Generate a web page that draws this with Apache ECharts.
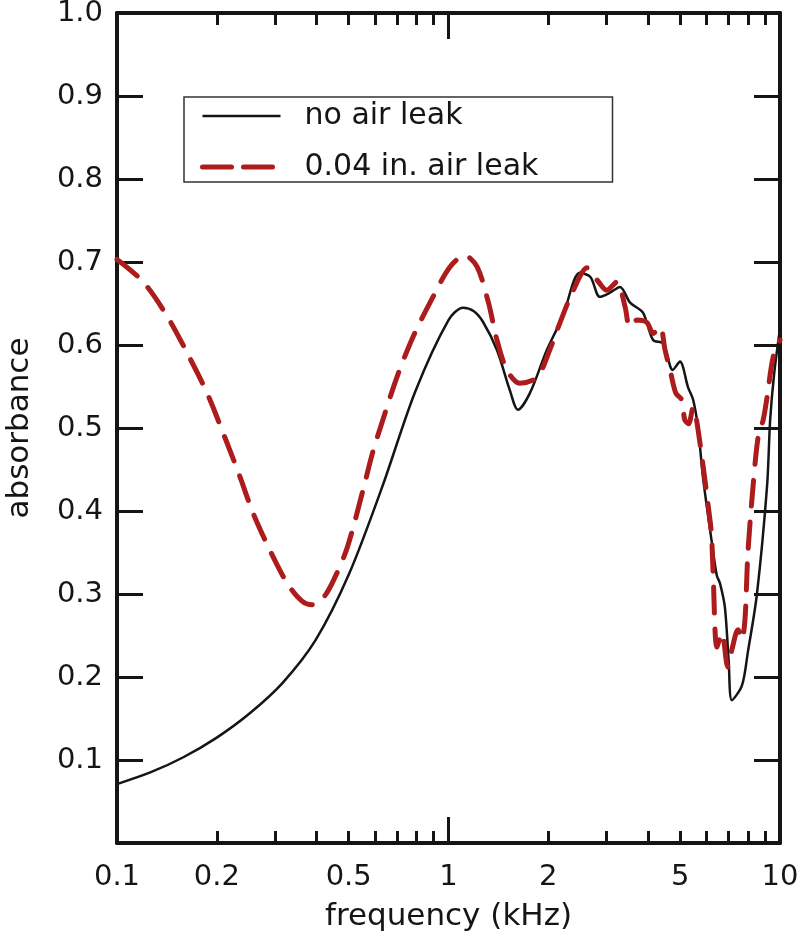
<!DOCTYPE html>
<html>
<head>
<meta charset="utf-8">
<script src="https://cdn.jsdelivr.net/npm/echarts@6/dist/echarts.min.js"></script>
<style>
  html, body { margin: 0; padding: 0; background: #fff; }
  #chart { width: 800px; height: 938px; }
</style>
</head>
<body>
<div id="chart"></div>
<script>
// frequency in kHz, absorbance
var noLeakFreq = [0.100, 0.126, 0.158, 0.200, 0.251, 0.316, 0.398, 0.501, 0.631, 0.794, 1.00, 1.106, 1.19, 1.27, 1.40, 1.53, 1.62, 1.76, 1.98, 2.21, 2.49, 2.68, 2.86, 3.07, 3.29, 3.53, 3.86, 4.14, 4.44, 4.75, 4.99, 5.28, 5.47, 5.66, 5.86, 6.29, 6.45, 6.59, 6.82, 7.00, 7.16, 7.68, 8.00, 8.52, 9.14, 9.34, 9.60, 10.0];
var noLeakAbs  = [0.071, 0.085, 0.103, 0.127, 0.156, 0.193, 0.245, 0.324, 0.429, 0.544, 0.630, 0.645, 0.641, 0.628, 0.594, 0.546, 0.522, 0.542, 0.594, 0.634, 0.687, 0.682, 0.658, 0.663, 0.670, 0.651, 0.639, 0.606, 0.602, 0.570, 0.580, 0.549, 0.534, 0.500, 0.440, 0.350, 0.322, 0.313, 0.284, 0.220, 0.172, 0.190, 0.230, 0.300, 0.430, 0.510, 0.565, 0.620];

var leakFreq = [0.100, 0.120, 0.142, 0.163, 0.187, 0.209, 0.235, 0.257, 0.289, 0.326, 0.360, 0.388, 0.418, 0.448, 0.494, 0.552, 0.590, 0.634, 0.700, 0.782, 0.898, 1.01, 1.12, 1.22, 1.32, 1.40, 1.50, 1.64, 1.85, 2.02, 2.17, 2.38, 2.62, 2.81, 3.00, 3.22, 3.41, 3.52, 3.70, 3.97, 4.14, 4.35, 4.50, 4.66, 4.85, 5.05, 5.16, 5.30, 5.47, 5.66, 6.15, 6.22, 6.29, 6.45, 6.68, 6.96, 7.16, 7.47, 7.67, 7.84, 8.00, 8.29, 8.59, 8.90, 9.14, 9.54, 10.0];
var leakAbs  = [0.703, 0.676, 0.634, 0.590, 0.542, 0.494, 0.441, 0.398, 0.353, 0.313, 0.292, 0.287, 0.295, 0.315, 0.355, 0.425, 0.470, 0.510, 0.562, 0.610, 0.658, 0.694, 0.708, 0.694, 0.651, 0.606, 0.570, 0.554, 0.561, 0.594, 0.627, 0.666, 0.693, 0.678, 0.666, 0.676, 0.646, 0.622, 0.630, 0.627, 0.614, 0.622, 0.594, 0.570, 0.542, 0.534, 0.510, 0.505, 0.525, 0.498, 0.389, 0.369, 0.320, 0.236, 0.253, 0.212, 0.233, 0.257, 0.245, 0.269, 0.349, 0.429, 0.489, 0.510, 0.537, 0.586, 0.606];

var seriesNames = ['no air leak', '0.04 in. air leak'];

// axis ticks and labels
var xLabelValues = [0.1, 0.2, 0.5, 1, 2, 5, 10];
var xMinorTicks = [0.2, 0.3, 0.4, 0.5, 0.6, 0.7, 0.8, 0.9, 2, 3, 4, 5, 6, 7, 8, 9];
var xMajorTicks = [1];

var ink = '#151515';
var red = '#ad1c1c';
var font = 'DejaVu Sans';

function pairs(xs, ys) {
  return xs.map(function (x, i) { return [x, ys[i]]; });
}

function xAxisBase(pos) {
  return {
    type: 'log', logBase: 10, min: 0.1, max: 10, position: pos,
    axisLine: { show: true, lineStyle: { color: ink, width: 4 } },
    splitLine: { show: false },
    axisLabel: { show: false },
    axisTick: { show: false }
  };
}

var xBottom = xAxisBase('bottom');
xBottom.axisTick = { show: true, inside: true, length: 12, customValues: xMinorTicks, lineStyle: { color: ink, width: 3 } };
xBottom.axisLabel = {
  show: true, customValues: xLabelValues, margin: 20,
  fontFamily: font, fontSize: 29, color: ink,
  formatter: function (v) { return String(+(+v).toPrecision(3)); }
};
xBottom.name = 'frequency (kHz)';
xBottom.nameLocation = 'middle';
xBottom.nameGap = 58;
xBottom.nameTextStyle = { fontFamily: font, fontSize: 31, color: ink };

var xBottomMajor = xAxisBase('bottom');
xBottomMajor.axisLine = { show: false };
xBottomMajor.axisTick = { show: true, inside: true, length: 26, customValues: xMajorTicks, lineStyle: { color: ink, width: 3 } };

var xTop = xAxisBase('top');
xTop.axisTick = { show: true, inside: true, length: 12, customValues: xMinorTicks, lineStyle: { color: ink, width: 3 } };

var xTopMajor = xAxisBase('top');
xTopMajor.axisLine = { show: false };
xTopMajor.axisTick = { show: true, inside: true, length: 26, customValues: xMajorTicks, lineStyle: { color: ink, width: 3 } };

var chart = echarts.init(document.getElementById('chart'), null, { renderer: 'canvas' });

chart.setOption({
  animation: false,
  backgroundColor: '#fff',
  grid: { left: 117, right: 20, top: 13, bottom: 95, containLabel: false, outerBoundsMode: 'none' },
  legend: {
    left: 184, top: 97,
    orient: 'vertical',
    padding: [4, 12, 0, 16],
    itemWidth: 78, itemHeight: 14, itemGap: 21,
    borderColor: '#333', borderWidth: 1.5,
    textStyle: { fontFamily: font, fontSize: 30, color: ink, lineHeight: 30, width: 296, padding: [0, 0, 0, 19] },
    data: [
      {
        name: seriesNames[0],
        itemStyle: { color: 'rgba(0,0,0,0)', borderWidth: 0, opacity: 0 },
        lineStyle: { color: ink, width: 2.5, type: 'solid' }
      },
      {
        name: seriesNames[1],
        itemStyle: { color: 'rgba(0,0,0,0)', borderWidth: 0, opacity: 0 },
        lineStyle: { color: red, width: 5, type: [29, 12], cap: 'round' }
      }
    ]
  },
  xAxis: [xBottom, xBottomMajor, xTop, xTopMajor],
  yAxis: [
    {
      type: 'value', min: 0, max: 1, interval: 0.1, position: 'left',
      axisLine: { show: true, lineStyle: { color: ink, width: 4 } },
      axisTick: { show: true, inside: true, length: 26, lineStyle: { color: ink, width: 3 } },
      splitLine: { show: false },
      axisLabel: {
        margin: 14, fontFamily: font, fontSize: 29, color: ink,
        formatter: function (v) { return v === 0 ? '' : v.toFixed(1); }
      },
      name: 'absorbance', nameLocation: 'middle', nameRotate: 90, nameGap: 82,
      nameTextStyle: { fontFamily: font, fontSize: 31, color: ink }
    },
    {
      type: 'value', min: 0, max: 1, interval: 0.1, position: 'right',
      axisLine: { show: true, lineStyle: { color: ink, width: 4 } },
      axisTick: { show: true, inside: true, length: 26, lineStyle: { color: ink, width: 3 } },
      splitLine: { show: false },
      axisLabel: { show: false }
    }
  ],
  series: [
    {
      name: seriesNames[0], type: 'line', xAxisIndex: 0, yAxisIndex: 0,
      data: pairs(noLeakFreq, noLeakAbs),
      showSymbol: false, symbol: 'none', smooth: 0.3, z: 3,
      lineStyle: { color: ink, width: 2.5 },
      itemStyle: { color: ink }
    },
    {
      name: seriesNames[1], type: 'line', xAxisIndex: 0, yAxisIndex: 0,
      data: pairs(leakFreq, leakAbs),
      showSymbol: false, symbol: 'none', smooth: 0.3, z: 4,
      lineStyle: { color: red, width: 5, type: [26, 16], cap: 'round', join: 'round' },
      itemStyle: { color: red }
    }
  ]
});
</script>
</body>
</html>
